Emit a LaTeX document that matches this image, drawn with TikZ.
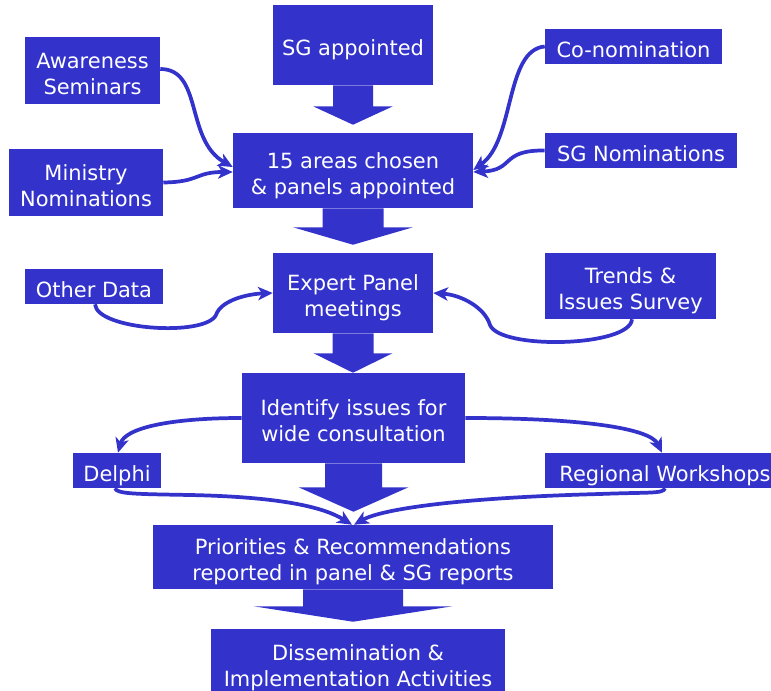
\documentclass[tikz,border=0pt]{standalone}
\usepackage{fontspec}
\setmainfont{DejaVu Sans}
\usetikzlibrary{calc,arrows.meta}
\definecolor{panelblue}{RGB}{51,51,204}

% Centred lines of a box, set slightly below the optical centre
\newcommand\boxlabel[1]{\raisebox{-4pt}[\height][\depth]{\begin{tabular}{@{}c@{}}#1\end{tabular}}}

% Block arrow below a node: #1 source node, #2 shaft half width, #3 shaft length,
% #4 head half width, #5 target node, #6 gap between tip and target
\newcommand\fatarrow[6]{%
  \fill[bigflow] ($(#1.south)+(-#2,0)$) -- ($(#1.south)+(-#2,-#3)$)
    -- ($(#1.south)+(-#4,-#3)$) -- ($(#1.south |- #5.north)+(0,#6)$)
    -- ($(#1.south)+(#4,-#3)$) -- ($(#1.south)+(#2,-#3)$)
    -- ($(#1.south)+(#2,0)$) -- cycle;}

\begin{document}
\begin{tikzpicture}[x=0.75pt,y=0.75pt,
  box/.style 2 args={fill=panelblue, text=white, inner sep=0pt,
    minimum width=#1*0.75pt, minimum height=#2*0.75pt,
    font=\fontsize{15.7}{19.5}\selectfont},
  link/.style={draw=panelblue, line width=2.8pt,
    -{Stealth[length=11pt,width=10pt,inset=3pt]}},
  bigflow/.style={fill=panelblue}]
\useasboundingbox (0,0) rectangle (771,-691);

% main column
\node[box={160}{80}] (sg) at (353,-45) {\boxlabel{SG appointed}};
\node[box={240}{75}] (areas) at (353,-170.5) {\boxlabel{15 areas chosen\\\& panels appointed}};
\node[box={160}{80}] (expert) at (353,-293) {\boxlabel{Expert Panel\\meetings}};
\node[box={223}{90}] (ident) at (353.5,-418) {\boxlabel{Identify issues for\\wide consultation}};
\node[box={400}{64}] (prio) at (353,-557) {\boxlabel{Priorities \& Recommendations\\reported in panel \& SG reports}};
\node[box={294}{68}] (diss) at (358,-663) {\boxlabel{Dissemination \&\\Implementation Activities}};

% side inputs
\node[box={135}{67}] (aware) at (92.5,-70.5) {\boxlabel{Awareness\\Seminars}};
\node[box={154}{67}] (ministry) at (86,-182.5) {\boxlabel{Ministry\\Nominations}};
\node[box={177}{35}] (conom) at (633.5,-46.5) {\boxlabel{Co-nomination}};
\node[box={192}{35}] (sgnom) at (641,-150.5) {\boxlabel{SG Nominations}};
\node[box={138}{35}] (other) at (94,-286.5) {\boxlabel{Other Data}};
\node[box={171}{66}] (trends) at (630.5,-286) {\boxlabel{Trends \&\\Issues Survey}};
\node[box={88}{35}] (delphi) at (117,-470.5) {\boxlabel{Delphi}};
\node[box={240}{35}] (regional) at (665,-470.5) {\boxlabel{Regional Workshops}};

% block arrows of the main column
\fatarrow{sg}{20}{21}{40}{areas}{8}
\fatarrow{areas}{30.5}{19}{60}{expert}{8}
\fatarrow{expert}{20.5}{20}{39.5}{ident}{0}
\fatarrow{ident}{28.5}{24}{55}{prio}{13}
\fatarrow{prio}{50}{17}{99.5}{diss}{7}

% curved links
\draw[link] ($(aware.east)+(0,1.5)$) .. controls (203,-69) and (185,-140) .. ($(areas.west)+(0,3.5)$);
\draw[link] (ministry.east) .. controls (200,-182) and (195,-172) .. ($(areas.west)+(0,-1.5)$);
\draw[link] (conom.west) .. controls (505,-50) and (515,-140) .. ($(areas.east)+(0,0.5)$);
\draw[link] (sgnom.west) .. controls (500,-150) and (515,-170) .. ($(areas.east)+(0,-1.5)$);

\draw[link] ($(other.south)+(1,0)$) .. controls (97,-330) and (205,-337) .. (216,-315)
  .. controls (221,-300) and (248,-294) .. (expert.west);
\draw[link] ($(trends.south)+(1.5,0)$) .. controls (630,-347) and (500,-350) .. (490,-325)
  .. controls (485,-308) and (462,-295) .. (expert.east);

\draw[link] (ident.west) .. controls (170,-418) and (125,-428) .. ($(delphi.north)+(1,0)$);
\draw[link] (ident.east) .. controls (580,-418) and (650,-428) .. ($(regional.north)+(-3,0)$);

\draw[link] ($(delphi.south)+(-2,0)$) .. controls (117,-494) and (135,-494) .. (190,-495)
  .. controls (285,-497) and (325,-508) .. ($(prio.north)+(-1,0)$);
\draw[link] (regional.south) .. controls (663,-494) and (650,-492) .. (600,-494)
  .. controls (450,-498) and (380,-510) .. ($(prio.north)+(1,0)$);
\end{tikzpicture}
\end{document}
